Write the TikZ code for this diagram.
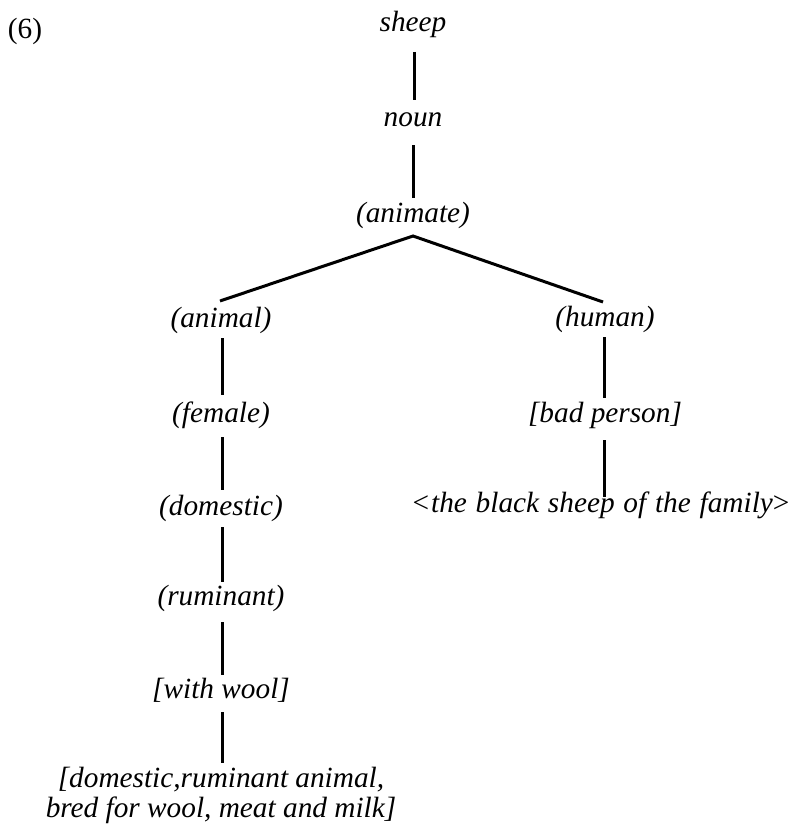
\documentclass[tikz,border=0pt]{standalone}
\usepackage{fontspec}
\setmainfont{Liberation Serif}
\newfontfamily\tnr{Liberation Serif}
\begin{document}
\begin{tikzpicture}[x=1pt,y=1pt,
  lbl/.style={anchor=base,inner sep=0pt,outer sep=0pt,font=\tnr\fontsize{29.3}{30}\selectfont\itshape},
  edge/.style={line width=3pt}]
\useasboundingbox (0,0) rectangle (793,-824);
\node[lbl,font=\tnr\fontsize{29.3}{30}\selectfont\upshape] (six) at (25,-39) {(6)};
\node[lbl] (sheep) at (413,-32) {sheep};
\node[lbl] (noun) at (413,-127) {noun};
\node[lbl] (animate) at (413,-222) {(animate)};
\node[lbl] (animal) at (221,-327) {(animal)};
\node[lbl] (human) at (605,-326) {(human)};
\node[lbl] (female) at (221,-422) {(female)};
\node[lbl] (bad) at (605,-422) {[bad person]};
\node[lbl] (domestic) at (221,-515) {(domestic)};
\node[lbl] (black) at (601,-512) {\spaceskip=0.3em {\upshape<}\kern2pt the black sheep of the family{\upshape>}};
\node[lbl] (ruminant) at (221,-605) {(ruminant)};
\node[lbl] (wool) at (221,-698) {[with wool]};
\node[lbl,align=center] (def) at (221,-817) {[domestic,ruminant animal,\\bred for wool, meat and milk]};
\draw[edge] ([yshift=-20pt,xshift=1pt]sheep.base) -- ([yshift=27pt,xshift=1pt]noun.base);
\draw[edge] ([yshift=-18pt]noun.base) -- ([yshift=24pt]animate.base);
\draw[edge] ([xshift=-1pt,yshift=26pt]animal.base) -- ([yshift=-14pt]animate.base) -- ([xshift=-2pt,yshift=24pt]human.base);
\draw[edge] ([xshift=1pt,yshift=-11pt]animal.base) -- ([xshift=1pt,yshift=27pt]female.base);
\draw[edge] ([xshift=1pt,yshift=-15pt]female.base) -- ([xshift=1pt,yshift=25pt]domestic.base);
\draw[edge] ([xshift=1pt,yshift=-12pt]domestic.base) -- ([xshift=1pt,yshift=23pt]ruminant.base);
\draw[edge] ([xshift=1pt,yshift=-17pt]ruminant.base) -- ([xshift=1pt,yshift=23pt]wool.base);
\draw[edge] ([xshift=1pt,yshift=-14pt]wool.base) -- ([xshift=1pt,yshift=54pt]def.base);
\draw[edge] ([xshift=-1pt,yshift=-11pt]human.base) -- ([xshift=-1pt,yshift=24pt]bad.base);
\draw[edge] ([xshift=-1pt,yshift=-18pt]bad.base) -- ([xshift=3pt,yshift=15pt]black.base);
\end{tikzpicture}
\end{document}
